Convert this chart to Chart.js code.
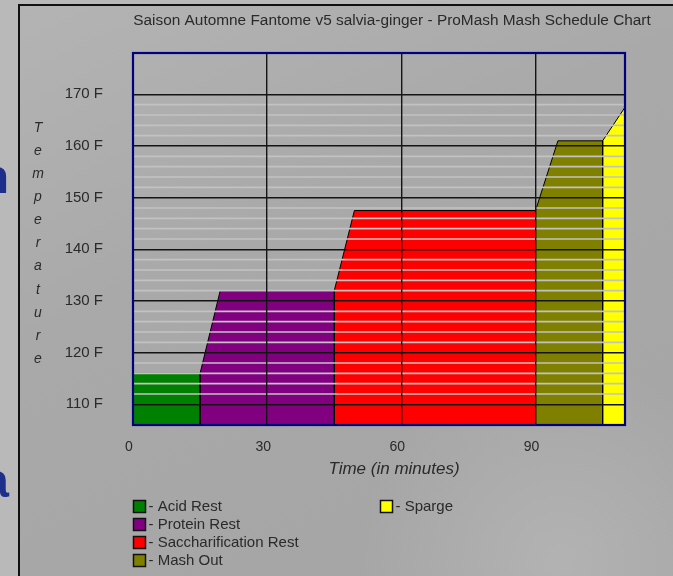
<!DOCTYPE html>
<html><head><meta charset="utf-8">
<script src="https://cdn.jsdelivr.net/npm/chart.js@4.4.1/dist/chart.umd.min.js"></script>
<style>html,body{margin:0;padding:0;background:#aaa;overflow:hidden}#wrap{width:673px;height:576px;position:relative}</style>
</head><body><div id="wrap"><canvas id="c" width="673" height="576"></canvas></div>
<script>
const chartTitle = 'Saison Automne Fantome v5 salvia-ginger - ProMash Mash Schedule Chart';
const stepNames = ['Acid Rest', 'Protein Rest', 'Saccharification Rest', 'Mash Out', 'Sparge'];
const stepColors = ['#008000', '#800080', '#ff0000', '#808000', '#ffff00'];
const stepStartMin = [0, 15, 45, 90, 105];
const stepReachMin = [0, 19.5, 49.5, 95, 110];
const stepEndMin = [15, 45, 90, 105, 110];
const stepTempF = [116, 132, 147.5, 161, 167.5];
const tempAxisMin = 106, tempAxisMax = 178, tempMajorStep = 10, tempMinorStep = 2;
const timeAxisMin = 0, timeAxisMax = 110, timeStep = 30;
const yTitle = 'Temperature';
const xTitle = 'Time (in minutes)';

const FONT = "'Liberation Sans', Arial, sans-serif";
const TXT = '#2a2a2a';

const datasets = stepNames.map((name, i) => {
  const prev = i === 0 ? stepTempF[0] : stepTempF[i - 1];
  return {
    label: name,
    data: [
      {x: stepStartMin[i], y: tempAxisMin},
      {x: stepStartMin[i], y: prev},
      {x: stepReachMin[i], y: stepTempF[i]},
      {x: stepEndMin[i], y: stepTempF[i]},
      {x: stepEndMin[i], y: tempAxisMin}
    ],
    backgroundColor: stepColors[i],
    borderColor: '#000',
    borderWidth: 1,
    fill: 'start',
    pointRadius: 0,
    tension: 0
  };
});

const decor = {
  id: 'decor',
  beforeDraw(chart) {
    const ctx = chart.ctx, W = chart.width, H = chart.height;
    ctx.save();
    const g = ctx.createLinearGradient(0, 0, W * 0.4, H);
    g.addColorStop(0, '#b4b4b4');
    g.addColorStop(0.5, '#a9a9a9');
    g.addColorStop(1, '#a6a6a6');
    ctx.fillStyle = g;
    ctx.fillRect(0, 0, W, H);
    const r = ctx.createRadialGradient(560, 560, 10, 560, 560, 200);
    r.addColorStop(0, 'rgba(200,200,200,0.35)');
    r.addColorStop(1, 'rgba(200,200,200,0)');
    ctx.fillStyle = r;
    ctx.fillRect(0, 0, W, H);
    ctx.fillStyle = '#b9b9b9';
    ctx.fillRect(0, 0, 18, H);
    ctx.fillRect(0, 0, W, 4);
    ctx.strokeStyle = '#111';
    ctx.lineWidth = 2;
    ctx.beginPath();
    ctx.moveTo(19, 4); ctx.lineTo(19, H);
    ctx.moveTo(18, 5); ctx.lineTo(W, 5);
    ctx.stroke();
    ctx.fillStyle = '#1d2f8a';
    ctx.font = 'bold 48px ' + FONT;
    ctx.textBaseline = 'alphabetic';
    ctx.textAlign = 'right';
    ctx.fillText('n', 9, 193);
    ctx.fillText('a', 9, 497);
    ctx.restore();
  },
  afterDatasetsDraw(chart) {
    const ctx = chart.ctx, ys = chart.scales.y, a = chart.chartArea;
    const ticks = ys.ticks.map(t => t.value);
    const lo = Math.min(...ticks), hi = Math.max(...ticks);
    ctx.save();
    ctx.strokeStyle = '#c2c2c2';
    ctx.lineWidth = 1.6;
    ctx.beginPath();
    for (let v = lo + tempMinorStep; v < hi; v += tempMinorStep) {
      if (v % tempMajorStep === 0) continue;
      const y = ys.getPixelForValue(v);
      ctx.moveTo(a.left, y); ctx.lineTo(a.right, y);
    }
    ctx.stroke();
    ctx.restore();
  },
  afterDraw(chart) {
    const ctx = chart.ctx, a = chart.chartArea;
    ctx.save();
    ctx.strokeStyle = '#000080';
    ctx.lineWidth = 2.2;
    ctx.strokeRect(a.left, a.top, a.right - a.left, a.bottom - a.top);
    ctx.fillStyle = TXT;
    ctx.font = '15.4px ' + FONT;
    ctx.textAlign = 'center';
    ctx.textBaseline = 'middle';
    ctx.fillText(chartTitle, 392, 21);
    ctx.font = 'italic 17px ' + FONT;
    ctx.fillText(xTitle, 394, 469);
    ctx.font = 'italic 14px ' + FONT;
    yTitle.split('').forEach((ch, i) => ctx.fillText(ch, 38, 128 + i * 23.1));
    ctx.font = '15px ' + FONT;
    ctx.textAlign = 'left';
    chart.data.datasets.forEach((ds, i) => {
      const col = i < 4 ? 0 : 1, row = i < 4 ? i : i - 4;
      const bx = col === 0 ? 133.5 : 380.5, by = 500.5 + row * 18;
      ctx.fillStyle = ds.backgroundColor;
      ctx.fillRect(bx, by, 12, 12);
      ctx.strokeStyle = '#111';
      ctx.lineWidth = 1.5;
      ctx.strokeRect(bx, by, 12, 12);
      ctx.fillStyle = TXT;
      ctx.fillText('- ' + ds.label, bx + 15, by + 6.5);
    });
    ctx.restore();
  }
};

new Chart(document.getElementById('c'), {
  type: 'line',
  data: {datasets},
  options: {
    responsive: false,
    animation: false,
    events: [],
    layout: {padding: {left: 0, top: 53, right: 48, bottom: 0}},
    plugins: {legend: {display: false}, title: {display: false}, tooltip: {enabled: false}},
    scales: {
      x: {
        type: 'linear', min: timeAxisMin, max: timeAxisMax,
        border: {display: false},
        grid: {color: '#141414', lineWidth: 1.4, drawTicks: false, z: 1},
        ticks: {stepSize: timeStep, includeBounds: false, labelOffset: -4, padding: 14, maxRotation: 0,
                color: TXT, font: {family: FONT, size: 14}},
        afterFit: s => { s.height = 151; }
      },
      y: {
        type: 'linear', min: tempAxisMin, max: tempAxisMax,
        border: {display: false},
        grid: {color: '#141414', lineWidth: 1.4, drawTicks: false, z: 1},
        ticks: {stepSize: tempMajorStep, includeBounds: false, padding: 30,
                color: TXT, font: {family: FONT, size: 15}, callback: v => v + ' F'},
        afterFit: s => { s.width = 133; }
      }
    }
  },
  plugins: [decor]
});
</script>
</body></html>
